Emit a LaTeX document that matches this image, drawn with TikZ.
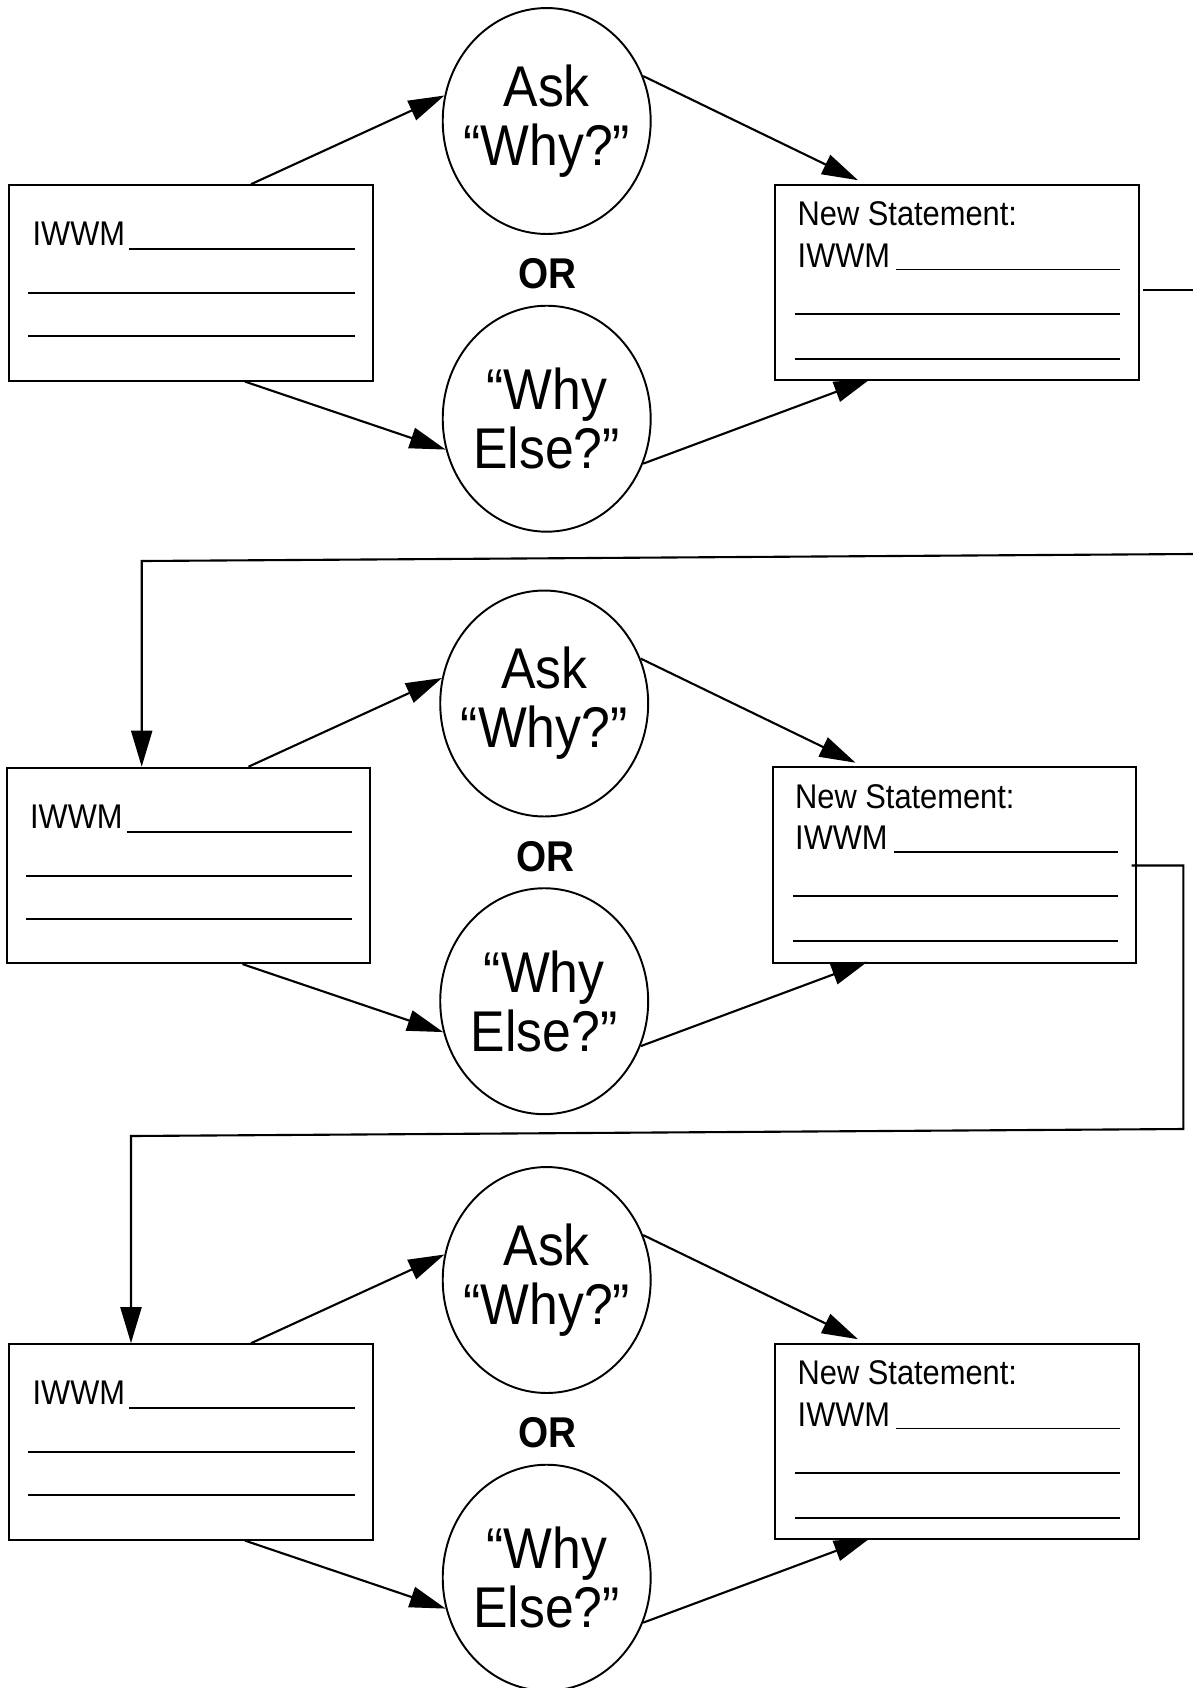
\documentclass[tikz,border=0pt]{standalone}
\usepackage{fontspec}
\setmainfont{Liberation Sans}[FakeStretch=0.9]
\usetikzlibrary{shapes.geometric,arrows.meta,calc}

\tikzset{
  stmt/.style={draw, rectangle, line width=1.1pt, minimum width=7.27cm, minimum height=3.91cm, inner sep=0pt},
  why/.style={draw, ellipse, line width=1.1pt, minimum width=4.16cm, minimum height=4.52cm, inner sep=-0.6cm,
    align=center, font=\fontsize{32.7}{33.6}\selectfont},
  lbl/.style={anchor=base west, inner sep=0pt, font=\fontsize{19.5}{23}\selectfont},
  rule/.style={line width=1.1pt},
  flow/.style={line width=1.2pt, -{Triangle[length=0.72cm,width=0.42cm]}},
}

\begin{document}
\begin{tikzpicture}[x=0.02cm, y=-0.02cm]

    \useasboundingbox (0,0) rectangle (1193,1688);

    % Tres filas iguales
    \foreach \r/\dx/\dy in {1/0/0, 2/-2.5/582.5, 3/0/1159} {

        % Cajas y elipses
        \node[stmt] (in\r) at (191+\dx, 282.9+\dy) {};
        \node[stmt] (new\r) at (957+\dx, 282.5+\dy) {};
        \node[why] (ask\r) at (546.7+\dx, 121+\dy) {Ask\\``Why?''};
        \node[why] (else\r) at (546.7+\dx, 418.7+\dy) {``Why\\Else?''};
        \node[anchor=base, inner sep=0pt, font=\fontsize{24.5}{26}\selectfont\bfseries] (or\r) at (547.8+\dx, 288.5+\dy) {OR};

        % Texto y renglones de la caja izquierda
        \node[lbl] (iw\r) at ($(in\r.north west)+(24,61.7)$) {IWWM};
        \draw[rule] ($(in\r.north west)+(120.7,65)$) -- ($(in\r.north east)+(-18.7,65)$);
        \draw[rule] ($(in\r.north west)+(20,109)$) -- ($(in\r.north east)+(-18.7,109)$);
        \draw[rule] ($(in\r.north west)+(20,152)$) -- ($(in\r.north east)+(-18.7,152)$);

        % Texto y renglones de la caja derecha
        \node[lbl] (ns\r) at ($(new\r.north west)+(23,41.7)$) {New Statement:};
        \node[lbl] (nw\r) at ($(new\r.north west)+(23,83.3)$) {IWWM};
        \draw[rule] ($(new\r.north west)+(121.7,85.7)$) -- ($(new\r.north east)+(-19.3,85.7)$);
        \draw[rule] ($(new\r.north west)+(21,130)$) -- ($(new\r.north east)+(-19.3,130)$);
        \draw[rule] ($(new\r.north west)+(21,175)$) -- ($(new\r.north east)+(-19.3,175)$);

        % Flechas
        \draw[flow] ($(in\r.north)+(60,0)$) -- (ask\r.166);
        \draw[flow] (ask\r.25) -- ($(new\r.north)+(-99,-3.6)$);
        \draw[flow] ($(in\r.south)+(54,0)$) -- (else\r.197);
        \draw[flow] (else\r.335) -- ($(new\r.south)+(-87,-2)$);
    }

    % Enlace de la fila 1 a la fila 2
    \coordinate (o1) at ($(new1.east)+(3.5,7.5)$);
    \coordinate (e1) at (1193,290);
    \coordinate (r1) at (1193,554);
    \coordinate (k1) at (141.7,561);
    \draw[rule] (o1) -- (e1);
    \draw[flow] (r1) -- (k1) -- (k1 |- in2.north);

    % Enlace de la fila 2 a la fila 3
    \coordinate (o2) at ($(new2.east)+(-5.5,0.5)$);
    \coordinate (t2) at (1183.3,1129);
    \coordinate (k2) at (131,1136);
    \draw[flow] (o2) -| (t2) -- (k2) -- (k2 |- in3.north);

\end{tikzpicture}
\end{document}
